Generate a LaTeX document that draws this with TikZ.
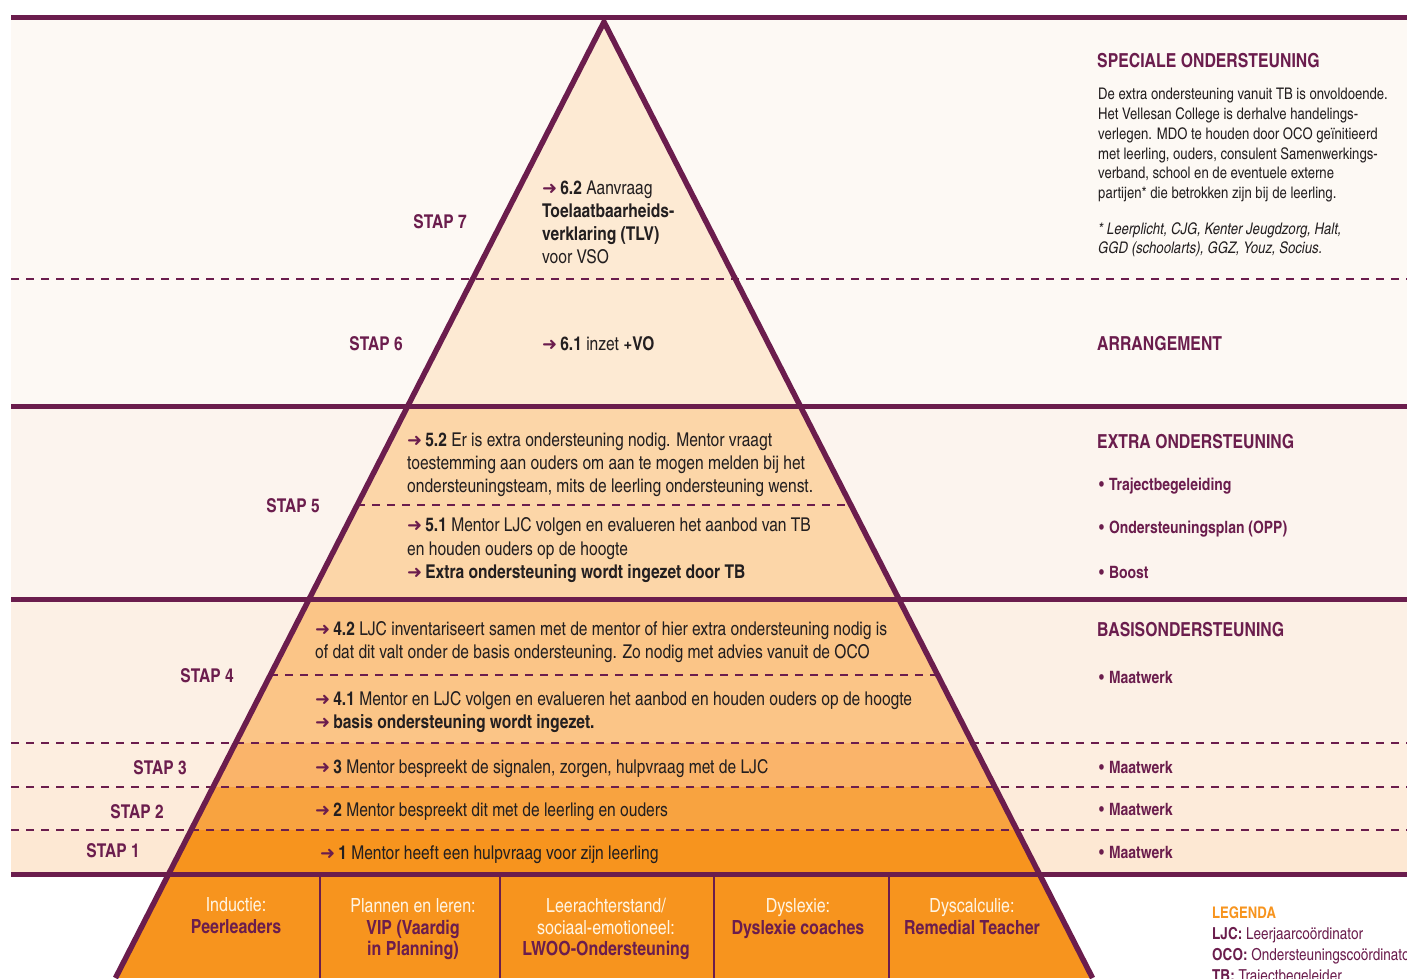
\documentclass[tikz,border=0pt]{standalone}
\usepackage{fontspec}
\usetikzlibrary{calc}
\setmainfont{texgyreheroscn}[Extension=.otf,UprightFont=*-regular,BoldFont=*-bold,ItalicFont=*-italic,BoldItalicFont=*-bolditalic]
\newfontfamily\symfont{DejaVu Sans}
\definecolor{plum}{HTML}{6B1D4D}
\definecolor{txt}{HTML}{231F20}
\definecolor{bgA}{HTML}{FDF9F4}
\definecolor{bgB}{HTML}{FCF4EE}
\definecolor{bgC}{HTML}{FCF0E5}
\definecolor{bgD}{HTML}{FDEEE0}
\definecolor{bgE}{HTML}{FDEBDA}
\definecolor{bgF}{HTML}{FDE8D3}
\definecolor{pyA}{HTML}{FDEAD3}
\definecolor{pyB}{HTML}{FCD6A8}
\definecolor{pyC}{HTML}{FBC587}
\definecolor{pyD}{HTML}{FAB46A}
\definecolor{pyE}{HTML}{F8A340}
\definecolor{pyF}{HTML}{F7941E}
\definecolor{cream}{HTML}{FFF4E2}
\definecolor{legorange}{HTML}{F7941E}
\newcommand\parr{{\color{plum}\symfont\fontsize{18}{18}\selectfont ➜}\hspace{3pt}}
\newcommand\pbul{•\hspace{5pt}}
\begin{document}
\begin{tikzpicture}[x=1pt,y=-1pt,
  thick line/.style={draw=plum,line width=5pt},
  dash line/.style={draw=plum,line width=1.8pt,dash pattern=on 8pt off 7pt},
  outline/.style={draw=plum,line width=5.5pt,line join=miter},
  divider/.style={draw=plum,line width=1.8pt},
  stap/.style={anchor=base east,inner sep=0pt,text=plum,font=\fontsize{19}{23}\selectfont\bfseries},
  body/.style={anchor=base west,inner sep=0pt,text=txt,font=\fontsize{19}{23}\selectfont},
  para/.style={anchor=base west,inner sep=0pt,text=txt,font=\fontsize{16}{20}\selectfont},
  head/.style={anchor=base west,inner sep=0pt,text=plum,font=\fontsize{19.3}{23}\selectfont\bfseries},
  bul/.style={anchor=base west,inner sep=0pt,text=plum,font=\fontsize{17}{20}\selectfont\bfseries},
  leg/.style={anchor=base west,inner sep=0pt,text=plum,font=\fontsize{16.5}{20}\selectfont},
  boxw/.style={anchor=base,inner sep=0pt,text=cream,font=\fontsize{19.5}{23}\selectfont},
  boxb/.style={anchor=base,inner sep=0pt,text=plum,font=\fontsize{19.5}{23}\selectfont\bfseries}]
\clip (0,0) rectangle (1407,978);
\fill[white] (0,0) rectangle (1407,978);
% band backgrounds
\fill[bgA] (11,17) rectangle (1407,406);
\fill[bgB] (11,406) rectangle (1407,599);
\fill[bgC] (11,599) rectangle (1407,743);
\fill[bgD] (11,743) rectangle (1407,787);
\fill[bgE] (11,787) rectangle (1407,830);
\fill[bgF] (11,830) rectangle (1407,874);
% pyramid
\coordinate (apex) at (604,22);
\coordinate (bl) at (115.5,978);
\coordinate (br) at (1092.5,978);
\begin{scope}
\clip (apex) -- (bl) -- (br) -- cycle;
\fill[pyA] (0,0) rectangle (1407,406);
\fill[pyB] (0,406) rectangle (1407,599);
\fill[pyC] (0,599) rectangle (1407,743);
\fill[pyD] (0,743) rectangle (1407,787);
\fill[pyE] (0,787) rectangle (1407,830);
\fill[pyF] (0,830) rectangle (1407,978);
\end{scope}
% dashed lines
\coordinate (dAl) at (11,279);   \coordinate (dAr) at (1407,279);
\coordinate (dBl) at (11,743);   \coordinate (dBr) at (1407,743);
\coordinate (dCl) at (11,787);   \coordinate (dCr) at (1407,787);
\coordinate (dDl) at (11,830);   \coordinate (dDr) at (1407,830);
\draw[dash line] (dAl) -- (dAr);
\draw[dash line] (dBl) -- (dBr);
\draw[dash line] (dCl) -- (dCr);
\draw[dash line] (dDl) -- (dDr);
\coordinate (i5l) at ($(apex)!0.5052!(bl)$);
\coordinate (i5r) at ($(apex)!0.5052!(br)$);
\coordinate (i4l) at ($(apex)!0.6831!(bl)$);
\coordinate (i4r) at ($(apex)!0.6831!(br)$);
\draw[dash line] (i5l) -- (i5r);
\draw[dash line] (i4l) -- (i4r);
% thick lines
\coordinate (h0l) at (11,17);  \coordinate (h0r) at (1407,17);
\coordinate (h1l) at (11,406); \coordinate (h1r) at (1407,406);
\coordinate (h2l) at (11,599); \coordinate (h2r) at (1407,599);
\coordinate (h3l) at (11,874); \coordinate (h3r) at (1407,874);
\draw[thick line] (h0l) -- (h0r);
\draw[thick line] (h1l) -- (h1r);
\draw[thick line] (h2l) -- (h2r);
\draw[thick line] (h3l) -- (h3r);
% bottom dividers
\coordinate (v1t) at (320,876); \coordinate (v1b) at (320,978);
\coordinate (v2t) at (500,876); \coordinate (v2b) at (500,978);
\coordinate (v3t) at (714,876); \coordinate (v3b) at (714,978);
\coordinate (v4t) at (889,876); \coordinate (v4b) at (889,978);
\draw[divider] (v1t) -- (v1b);
\draw[divider] (v2t) -- (v2b);
\draw[divider] (v3t) -- (v3b);
\draw[divider] (v4t) -- (v4b);
% pyramid outline
\draw[outline] (bl) -- (apex) -- (br);
% STAP labels
\node[stap] (s7) at (467,228) {STAP 7};
\node[stap] (s6) at (403,350) {STAP 6};
\node[stap] (s5) at (320,512) {STAP 5};
\node[stap] (s4) at (234,682) {STAP 4};
\node[stap] (s3) at (187,774) {STAP 3};
\node[stap] (s2) at (164,818) {STAP 2};
\node[stap] (s1) at (140,857) {STAP 1};
% pyramid texts
\node[body] (p62a) at (542,194) {\parr\textbf{6.2} Aanvraag};
\node[body] (p62b) at (542,217) {\textbf{Toelaatbaarheids-}};
\node[body] (p62c) at (542,240) {\textbf{verklaring (TLV)}};
\node[body] (p62d) at (542,263) {voor VSO};
\node[body] (p61) at (542,350) {\parr\textbf{6.1} inzet \textbf{+VO}};
\node[body] (p52a) at (407,446) {\parr\textbf{5.2} Er is extra ondersteuning nodig. Mentor vraagt};
\node[body] (p52b) at (407,469) {toestemming aan ouders om aan te mogen melden bij het};
\node[body] (p52c) at (407,492) {ondersteuningsteam, mits de leerling ondersteuning wenst.};
\node[body] (p51a) at (407,531) {\parr\textbf{5.1} Mentor LJC volgen en evalueren het aanbod van TB};
\node[body] (p51b) at (407,555) {en houden ouders op de hoogte};
\node[body] (p51c) at (407,578) {\parr\textbf{Extra ondersteuning wordt ingezet door TB}};
\node[body] (p42a) at (315,635) {\parr\textbf{4.2} LJC inventariseert samen met de mentor of hier extra ondersteuning nodig is};
\node[body] (p42b) at (315,658) {of dat dit valt onder de basis ondersteuning. Zo nodig met advies vanuit de OCO};
\node[body] (p41a) at (315,705) {\parr\textbf{4.1} Mentor en LJC volgen en evalueren het aanbod en houden ouders op de hoogte};
\node[body] (p41b) at (315,728) {\parr\textbf{basis ondersteuning wordt ingezet.}};
\node[body] (p3) at (315,773) {\parr\textbf{3} Mentor bespreekt de signalen, zorgen, hulpvraag met de LJC};
\node[body] (p2) at (315,816) {\parr\textbf{2} Mentor bespreekt dit met de leerling en ouders};
\node[body] (p1) at (320,859) {\parr\textbf{1} Mentor heeft een hulpvraag voor zijn leerling};
% right column
\node[head] (hsp) at (1097,67) {SPECIALE ONDERSTEUNING};
\node[para] (r1) at (1098,99) {De extra ondersteuning vanuit TB is onvoldoende.};
\node[para] (r2) at (1098,119) {Het Vellesan College is derhalve handelings-};
\node[para] (r3) at (1098,139) {verlegen. MDO te houden door OCO geïnitieerd};
\node[para] (r4) at (1098,159) {met leerling, ouders, consulent Samenwerkings-};
\node[para] (r5) at (1098,178) {verband, school en de eventuele externe};
\node[para] (r6) at (1098,198) {partijen* die betrokken zijn bij de leerling.};
\node[para] (f1) at (1098,234) {\itshape * Leerplicht, CJG, Kenter Jeugdzorg, Halt,};
\node[para] (f2) at (1098,253) {\itshape GGD (schoolarts), GGZ, Youz, Socius.};
\node[head] (harr) at (1097,350) {ARRANGEMENT};
\node[head] (hext) at (1097,448) {EXTRA ONDERSTEUNING};
\node[bul] (b1) at (1099,490) {\pbul Trajectbegeleiding};
\node[bul] (b2) at (1099,533) {\pbul Ondersteuningsplan (OPP)};
\node[bul] (b3) at (1099,578) {\pbul Boost};
\node[head] (hbas) at (1097,636) {BASISONDERSTEUNING};
\node[bul] (m4) at (1099,683) {\pbul Maatwerk};
\node[bul] (m3) at (1099,773) {\pbul Maatwerk};
\node[bul] (m2) at (1099,815) {\pbul Maatwerk};
\node[bul] (m1) at (1099,858) {\pbul Maatwerk};
% legend
\node[leg,text=legorange,font=\fontsize{16}{20}\selectfont\bfseries] (lg) at (1212,918) {LEGENDA};
\node[leg] (lg1) at (1212,939) {\textbf{LJC:} Leerjaarcoördinator};
\node[leg] (lg2) at (1212,960) {\textbf{OCO:} Ondersteuningscoördinator};
\node[leg] (lg3) at (1212,981) {\textbf{TB:} Trajectbegeleider};
% bottom boxes
\node[boxw] (x1a) at (236,911) {Inductie:};
\node[boxb] (x1b) at (236,933) {Peerleaders};
\node[boxw] (x2a) at (413,912) {Plannen en leren:};
\node[boxb] (x2b) at (413,934) {VIP (Vaardig};
\node[boxb] (x2c) at (413,955) {in Planning)};
\node[boxw] (x3a) at (606,912) {Leerachterstand/};
\node[boxw] (x3b) at (606,934) {sociaal-emotioneel:};
\node[boxb] (x3c) at (606,955) {LWOO-Ondersteuning};
\node[boxw] (x4a) at (798,912) {Dyslexie:};
\node[boxb] (x4b) at (798,934) {Dyslexie coaches};
\node[boxw] (x5a) at (972,912) {Dyscalculie:};
\node[boxb] (x5b) at (972,934) {Remedial Teacher};
\end{tikzpicture}
\end{document}
